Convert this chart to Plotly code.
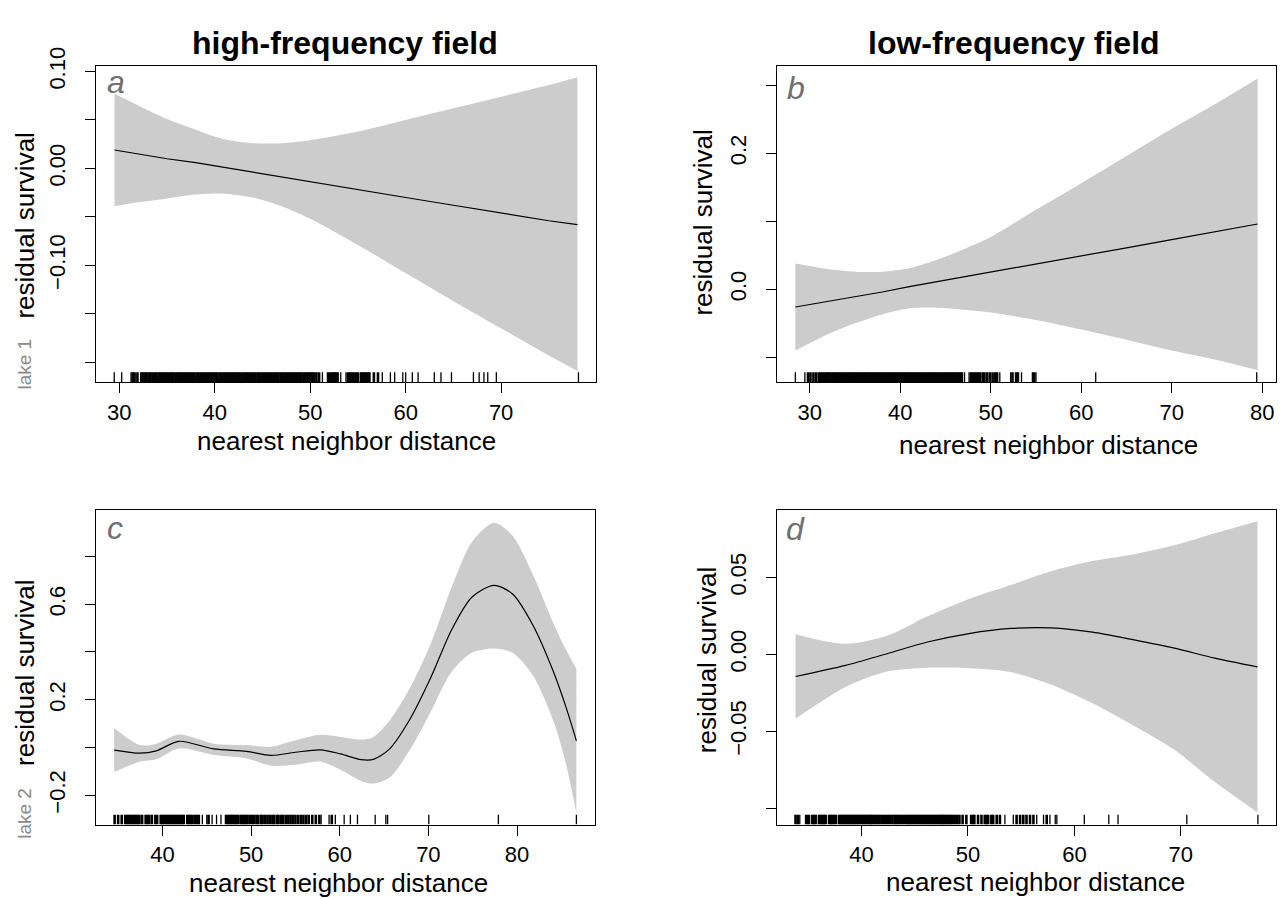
import plotly.graph_objects as go

# ---------------- data ----------------
# panel a : lake 1, high-frequency field
a_x = [29.5, 32, 35, 38, 41, 44, 47, 50, 55, 60, 65, 70, 75, 78]
a_fit = [0.019, 0.015, 0.010, 0.006, 0.001, -0.004, -0.009, -0.014, -0.022, -0.030, -0.038, -0.046, -0.054, -0.058]
a_up = [0.077, 0.065, 0.051, 0.040, 0.030, 0.026, 0.026, 0.029, 0.038, 0.050, 0.062, 0.074, 0.086, 0.094]
a_lo = [-0.039, -0.035, -0.031, -0.027, -0.026, -0.030, -0.039, -0.052, -0.079, -0.108, -0.137, -0.165, -0.193, -0.209]
rug_a = [29.47, 30.25, 31.23, 31.4, 31.6, 31.9,
         32.3, 32.48, 32.7, 32.86, 33.1, 33.28, 33.5, 33.7, 33.88, 34.1, 34.3, 34.46, 34.7, 34.9, 35.08,
         35.3, 35.5, 35.68, 35.9, 36.1, 36.3, 36.48, 36.7, 36.9, 37.08, 37.3, 37.5, 37.7, 37.88, 38.1,
         38.3, 38.5, 38.68, 38.9, 39.1, 39.3, 39.48, 39.7, 39.9, 40.1, 40.28, 40.5, 40.7, 40.9, 41.08,
         41.3, 41.5, 41.7, 41.88, 42.1, 42.3, 42.5, 42.68, 42.9, 43.1, 43.3, 43.48, 43.7, 43.9, 44.1,
         44.28, 44.5, 44.7, 44.9, 45.08, 45.3, 45.5, 45.7, 45.88, 46.1, 46.3, 46.5, 46.68, 46.9, 47.1,
         47.3, 47.48, 47.7, 47.9, 48.1, 48.28, 48.5, 48.7, 48.9, 49.08, 49.3, 49.5,
         49.7, 49.9, 50.1, 50.23, 50.4, 50.65, 50.93, 51.28, 51.8, 52.0, 52.2, 52.4, 52.55, 52.7, 52.87,
         53.2, 53.75, 53.95, 54.15, 54.35, 54.55, 54.8, 54.98, 55.3, 55.5, 55.7, 55.86, 56.05, 56.2,
         56.67, 57.1, 57.55, 58.4, 58.85, 59.7, 60.0, 60.7, 61.3, 63.0, 63.7, 64.8, 67.1, 67.7, 68.2,
         68.6, 69.5, 78.1]

# panel b : lake 1, low-frequency field
b_x = [28.4, 32, 35, 38, 41, 44, 47, 50, 55, 60, 65, 70, 75, 79.5]
b_fit = [-0.026, -0.018, -0.011, -0.004, 0.004, 0.011, 0.018, 0.025, 0.037, 0.049, 0.061, 0.073, 0.085, 0.096]
b_up = [0.038, 0.030, 0.026, 0.026, 0.031, 0.043, 0.059, 0.077, 0.117, 0.156, 0.196, 0.236, 0.274, 0.310]
b_lo = [-0.090, -0.066, -0.050, -0.037, -0.028, -0.027, -0.030, -0.034, -0.045, -0.059, -0.074, -0.090, -0.104, -0.119]
rug_b = [28.4, 29.45, 29.8, 30.07, 30.4, 30.7,
         31.0, 31.2, 31.38, 31.6, 31.8, 32.0, 32.18, 32.4, 32.6, 32.8, 33.0, 33.18, 33.4, 33.6, 33.8,
         34.0, 34.18, 34.4, 34.6, 34.8, 35.0, 35.18, 35.4, 35.6, 35.8, 36.0, 36.18, 36.4, 36.6, 36.8,
         37.0, 37.18, 37.4, 37.6, 37.8, 38.0, 38.18, 38.4, 38.6, 38.8, 39.0, 39.18, 39.4, 39.6, 39.8,
         40.0, 40.18, 40.4, 40.6, 40.8, 41.0, 41.18, 41.4, 41.6, 41.8, 42.0, 42.18, 42.4, 42.6, 42.8,
         43.0, 43.18, 43.4, 43.6, 43.8, 44.0, 44.18, 44.4, 44.6, 44.8, 45.0, 45.18, 45.4, 45.6, 45.8,
         46.0, 46.18, 46.4, 46.6, 46.8, 47.1,
         47.6, 47.8, 48.0, 48.2, 48.4, 48.6, 48.8, 49.1, 49.3, 49.6, 49.9, 50.2, 50.5, 50.7, 51.0,
         52.2, 52.4, 52.8, 53.0, 53.4, 54.6, 54.8, 55.0, 61.6, 79.4]

# panel c : lake 2, high-frequency field
c_x = [34.55, 37.46, 39.31, 41.85, 45.77, 49.47, 52.24, 55.01, 57.78, 60.09, 62.4, 63.8, 65.6,
       67.9, 70.3, 72.6, 74.9, 77.4, 79.5, 81.8, 84.1, 85.5, 86.7]
c_fit = [-0.011, -0.024, -0.014, 0.026, -0.006, -0.016, -0.033, -0.020, -0.010, -0.027, -0.051, -0.050, -0.007,
         0.117, 0.295, 0.491, 0.629, 0.679, 0.643, 0.512, 0.318, 0.172, 0.028]
c_up = [0.082, 0.010, 0.016, 0.054, 0.016, 0.010, 0.003, 0.030, 0.053, 0.044, 0.033, 0.044, 0.112,
        0.248, 0.438, 0.669, 0.860, 0.941, 0.887, 0.724, 0.520, 0.411, 0.329]
c_lo = [-0.103, -0.059, -0.049, -0.004, -0.031, -0.045, -0.076, -0.072, -0.059, -0.093, -0.140, -0.151, -0.127,
        -0.011, 0.152, 0.316, 0.397, 0.415, 0.397, 0.302, 0.112, -0.065, -0.276]
rug_c = [34.6, 35.0, 35.4, 35.8, 36.0, 36.2, 36.4, 36.6, 36.8, 37.0, 37.2, 37.4, 37.7, 38.1, 38.3,
         38.5, 38.8, 39.2, 39.4,
         39.8, 40.0, 40.18, 40.4, 40.6, 40.8, 41.0, 41.18, 41.4, 41.6, 41.8, 42.0, 42.2,
         42.4, 42.8, 43.0, 43.2, 43.4, 43.7, 43.9, 44.1, 44.5, 45.0, 45.2, 45.6, 46.1, 46.6, 47.1,
         47.3, 47.5, 47.7, 47.9, 48.1, 48.3, 48.5, 48.8, 49.0, 49.2, 49.4,
         49.6, 49.85, 50.1, 50.3, 50.6, 50.8, 51.1, 51.3, 51.6, 51.85, 52.1, 52.4, 52.6, 52.9, 53.1,
         53.4, 53.6, 53.9, 54.2, 54.45, 54.7,
         55.0, 55.3, 55.6, 55.9, 56.2, 56.5, 56.9, 57.3, 57.7, 57.9, 58.8, 59.1, 59.5, 60.5, 61.2,
         62.0, 64.0, 65.2, 65.4, 70.05, 77.9, 86.7]

# panel d : lake 2, low-frequency field
d_x = [33.8, 38.5, 42.4, 46.2, 50.1, 54.0, 57.8, 61.7, 65.5, 69.4, 73.2, 77.2]
d_fit = [-0.0144, -0.0072, 0.0004, 0.0080, 0.0135, 0.0168, 0.0172, 0.0144, 0.0095, 0.0040, -0.0025, -0.0082]
d_up = [0.0131, 0.0068, 0.0120, 0.0247, 0.0360, 0.0450, 0.0540, 0.0606, 0.0649, 0.0708, 0.0786, 0.0864]
d_lo = [-0.0418, -0.0212, -0.0112, -0.0087, -0.0090, -0.0114, -0.0196, -0.0318, -0.0460, -0.0620, -0.0830, -0.1027]
rug_d = [33.8, 34.02, 34.2, 34.74, 34.9, 35.06, 35.37, 35.53, 35.69, 36.0, 36.16, 36.32, 36.47,
         36.63, 36.95, 37.1, 37.26, 37.4, 37.6, 37.9, 38.05, 38.2, 38.36,
         38.5, 38.65, 38.8, 38.95, 39.1, 39.26, 39.4, 39.55, 39.7, 39.85, 40.0, 40.16, 40.3, 40.45,
         40.6, 40.75, 40.9, 41.0, 41.2,
         41.35, 41.55, 41.7, 41.9, 42.1, 42.3, 42.5, 42.7, 42.9, 43.1,
         43.24, 43.4, 43.6, 43.8, 44.0, 44.2, 44.35, 44.5,
         44.66, 44.82, 44.98, 45.14, 45.3, 45.46, 45.62, 45.78, 45.94, 46.1, 46.26, 46.42, 46.58,
         46.74, 46.9, 47.06, 47.22, 47.38, 47.52, 47.65,
         47.8, 47.96, 48.1, 48.28, 48.4, 48.6, 48.8, 49.0, 49.2, 49.5,
         49.85, 50.3, 50.5, 50.6, 50.95, 51.27, 51.58, 51.74, 51.9, 52.2, 52.37, 52.7, 53.0, 53.47,
         54.26, 54.57, 54.9, 55.2, 55.5, 55.83, 56.15, 56.46, 57.1, 57.4, 57.7, 58.2, 58.35,
         60.93, 63.23, 64.1, 70.56, 77.24]

# tick values / labels
a_xticks = [30, 40, 50, 60, 70]
a_yticks = [-0.20, -0.15, -0.10, -0.05, 0.00, 0.05, 0.10]
a_ylabels = ["", "", "\u22120.10", "", "0.00", "", "0.10"]
b_xticks = [30, 40, 50, 60, 70, 80]
b_yticks = [-0.1, 0.0, 0.1, 0.2, 0.3]
b_ylabels = ["", "0.0", "", "0.2", ""]
c_xticks = [40, 50, 60, 70, 80]
c_yticks = [-0.2, 0.0, 0.2, 0.4, 0.6, 0.8]
c_ylabels = ["\u22120.2", "", "0.2", "", "0.6", ""]
d_xticks = [40, 50, 60, 70]
d_yticks = [-0.10, -0.05, 0.00, 0.05]
d_ylabels = ["", "\u22120.05", "0.00", "0.05"]

# ---------------- layout helpers ----------------
W, H = 1280, 899
FONT = "Liberation Sans"


def px(x):
    return x / W


def py(y):
    return 1 - y / H


panels = [
    dict(x=a_x, fit=a_fit, up=a_up, lo=a_lo, rug=rug_a, fitshape="linear",
         xr=[27.56, 79.94], yr=[-0.2205, 0.1057], box=(96, 596, 48, 371),
         xt=a_xticks, yt=a_yticks, ytt=a_ylabels),
    dict(x=b_x, fit=b_fit, up=b_up, lo=b_lo, rug=rug_b, fitshape="linear",
         xr=[26.37, 81.53], yr=[-0.1365, 0.3283], box=(777, 1276, 48, 371),
         xt=b_xticks, yt=b_yticks, ytt=b_ylabels),
    dict(x=c_x, fit=c_fit, up=c_up, lo=c_lo, rug=rug_c, fitshape="spline",
         xr=[32.5, 88.8], yr=[-0.323, 0.993], box=(96, 595, 502, 823),
         xt=c_xticks, yt=c_yticks, ytt=c_ylabels),
    dict(x=d_x, fit=d_fit, up=d_up, lo=d_lo, rug=rug_d, fitshape="spline",
         xr=[32.06, 78.94], yr=[-0.1106, 0.0935], box=(777, 1276, 502, 823),
         xt=d_xticks, yt=d_yticks, ytt=d_ylabels),
]

fig = go.Figure()
layout_axes = {}
for i, p in enumerate(panels, start=1):
    sfx = "" if i == 1 else str(i)
    xa, ya = "x" + sfx, "y" + sfx
    # confidence band
    fig.add_trace(go.Scatter(x=p["x"], y=p["lo"], mode="lines", xaxis=xa, yaxis=ya,
                             line=dict(width=0, shape="spline", smoothing=0.8, color="#cccccc"),
                             showlegend=False, hoverinfo="skip"))
    fig.add_trace(go.Scatter(x=p["x"], y=p["up"], mode="lines", xaxis=xa, yaxis=ya,
                             fill="tonexty", fillcolor="#cccccc",
                             line=dict(width=0, shape="spline", smoothing=0.8, color="#cccccc"),
                             showlegend=False, hoverinfo="skip"))
    # fitted smooth
    fig.add_trace(go.Scatter(x=p["x"], y=p["fit"], mode="lines", xaxis=xa, yaxis=ya,
                             line=dict(width=1.2, color="black", shape=p["fitshape"], smoothing=0.8),
                             showlegend=False))
    # rug: crowded ticks drawn thicker so they merge like in the original
    y0 = p["yr"][0]
    y1 = p["yr"][0] + 0.031 * (p["yr"][1] - p["yr"][0])
    rug = sorted(p["rug"])
    groups = {"dense": ([], []), "sparse": ([], [])}
    for k, v in enumerate(rug):
        gaps = []
        if k > 0:
            gaps.append(v - rug[k - 1])
        if k < len(rug) - 1:
            gaps.append(rug[k + 1] - v)
        key = "dense" if min(gaps) < 0.45 and max(gaps) < 0.5 else "sparse"
        groups[key][0].extend([v, v, None])
        groups[key][1].extend([y0, y1, None])
    for key, wdt in (("dense", 2.6), ("sparse", 1.3)):
        gx, gy = groups[key]
        if gx:
            fig.add_trace(go.Scatter(x=gx, y=gy, mode="lines", xaxis=xa, yaxis=ya,
                                     line=dict(width=wdt, color="black"), showlegend=False,
                                     hoverinfo="skip"))
    l, r, t, b = p["box"]
    common = dict(showline=True, linecolor="black", linewidth=1, mirror=True,
                  ticks="outside", ticklen=10, tickwidth=1, tickcolor="black",
                  showgrid=False, zeroline=False,
                  tickfont=dict(family=FONT, size=22, color="black"))
    layout_axes["xaxis" + sfx] = dict(common, domain=[px(l), px(r)], range=p["xr"],
                                      anchor=ya, tickmode="array", tickvals=p["xt"],
                                      ticktext=[str(v) for v in p["xt"]])
    layout_axes["yaxis" + sfx] = dict(common, domain=[py(b), py(t)], range=p["yr"],
                                      anchor=xa, tickmode="array", tickvals=p["yt"],
                                      ticktext=p["ytt"], tickangle=-90,
                                      ticklabelstandoff=11)

annotations = []


def text(x, y, s, size, color="black", angle=0, bold=False, italic=False):
    if bold:
        s = "<b>" + s + "</b>"
    if italic:
        s = "<i>" + s + "</i>"
    annotations.append(dict(x=px(x), y=py(y), xref="paper", yref="paper", text=s,
                            showarrow=False, textangle=angle, xanchor="center", yanchor="middle",
                            font=dict(family=FONT, size=size, color=color)))


# column titles
text(345, 25, "high-frequency field", 32, bold=True)
text(1014, 25, "low-frequency field", 32, bold=True)
# x axis titles
text(346, 431, "nearest neighbor distance", 26)
text(1048, 435, "nearest neighbor distance", 26)
text(338, 883, "nearest neighbor distance", 26)
text(1035, 882, "nearest neighbor distance", 26)
# y axis titles
text(25, 211, "residual survival", 26, angle=-90)
text(703, 208, "residual survival", 26, angle=-90)
text(25, 668, "residual survival", 26, angle=-90)
text(707, 655, "residual survival", 26, angle=-90)
# lake labels
text(25, 353, "lake 1", 19, color="#8a8a8a", angle=-90)
text(25, 812, "lake 2", 19, color="#8a8a8a", angle=-90)
# panel letters
text(116, 64, "a", 32, color="#707070", italic=True)
text(796, 70, "b", 32, color="#707070", italic=True)
text(115, 520, "c", 32, color="#707070", italic=True)
text(795, 521, "d", 32, color="#707070", italic=True)

fig.update_layout(width=W, height=H, margin=dict(l=0, r=0, t=0, b=0),
                  paper_bgcolor="white", plot_bgcolor="white",
                  showlegend=False, annotations=annotations, **layout_axes)

fig.write_html("out.html")
